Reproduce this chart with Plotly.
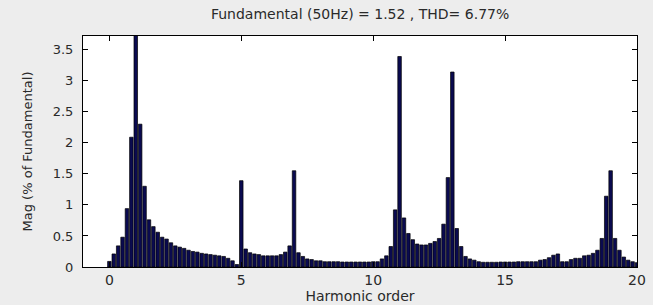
import plotly.graph_objects as go

# Harmonic orders (FFT resolution = 1/6 of the fundamental, 0..20)
harmonic_order = [k / 6 for k in range(121)]

# Magnitude (% of fundamental); the fundamental bar (100 %) is clipped by the axis
magnitude = [
    0.09, 0.21, 0.34, 0.48, 0.94, 2.09, 100.0, 2.30, 1.30, 0.76,
    0.65, 0.56, 0.48, 0.45, 0.39, 0.34, 0.32, 0.30, 0.27, 0.25,
    0.24, 0.22, 0.21, 0.20, 0.19, 0.18, 0.17, 0.14, 0.10, 0.04,
    1.39, 0.29, 0.23, 0.21, 0.20, 0.18, 0.18, 0.18, 0.18, 0.20,
    0.24, 0.34, 1.55, 0.23, 0.17, 0.13, 0.12, 0.10, 0.10, 0.085,
    0.085, 0.085, 0.085, 0.08, 0.08, 0.08, 0.08, 0.08, 0.08, 0.08,
    0.085, 0.085, 0.13, 0.18, 0.33, 0.92, 3.39, 0.79, 0.54, 0.44,
    0.37, 0.355, 0.355, 0.38, 0.41, 0.46, 0.69, 1.44, 3.14, 0.62,
    0.33, 0.17, 0.13, 0.11, 0.085, 0.076, 0.076, 0.076, 0.076, 0.08,
    0.08, 0.08, 0.08, 0.085, 0.085, 0.085, 0.085, 0.085, 0.11, 0.12,
    0.15, 0.19, 0.21, 0.085, 0.085, 0.12, 0.14, 0.14, 0.18, 0.19,
    0.22, 0.27, 0.46, 1.14, 1.55, 0.46, 0.27, 0.16, 0.11, 0.085,
    0.07,
]

title_text = "Fundamental (50Hz) = 1.52 , THD= 6.77%"
x_title = "Harmonic order"
y_title = "Mag (% of Fundamental)"
x_ticks = [0, 5, 10, 15, 20]
y_ticks = [0, 0.5, 1, 1.5, 2, 2.5, 3, 3.5]
y_ticklabels = ["0", "0.5", "1", "1.5", "2", "2.5", "3", "3.5"]

font_family = "DejaVu Sans"
text_color = "#2a2a2a"
bg_color = "#ededed"

fig = go.Figure()
fig.add_trace(go.Bar(
    x=harmonic_order,
    y=magnitude,
    marker=dict(color="#0a0a50", line=dict(color="#000000", width=0.7)),
    showlegend=False,
    hoverinfo="skip",
))

fig.update_layout(
    width=653,
    height=305,
    margin=dict(l=83, r=16, t=36, b=38),
    paper_bgcolor=bg_color,
    plot_bgcolor="#ffffff",
    bargap=0.2,
    font=dict(family=font_family, size=13, color=text_color),
    title=dict(
        text=title_text,
        x=0.5515, xref="container", xanchor="center",
        y=1 - 14 / 305, yref="container", yanchor="middle",
        automargin=False,
        font=dict(family=font_family, size=14, color=text_color),
    ),
)

fig.update_xaxes(
    range=[-1, 20],
    tickvals=x_ticks,
    ticktext=[str(v) for v in x_ticks],
    ticks="inside", ticklen=5, tickcolor="#000000",
    showline=True, linecolor="#000000", linewidth=1,
    mirror="ticks",
    showgrid=False, zeroline=False,
    automargin=False,
    title=dict(text=x_title, standoff=1, font=dict(size=14)),
    tickfont=dict(size=14),
)
fig.update_yaxes(
    range=[0, 3.72],
    tickvals=y_ticks,
    ticktext=y_ticklabels,
    ticks="inside", ticklen=5, tickcolor="#000000",
    showline=True, linecolor="#000000", linewidth=1,
    mirror="ticks",
    showgrid=False, zeroline=False,
    automargin=False,
    ticklabelstandoff=6,
    title=dict(text=y_title, standoff=17, font=dict(size=13)),
    tickfont=dict(size=13),
)

fig.write_html(
    "out.html",
    config={"displayModeBar": False},
    post_script=(
        "document.body.style.margin='0';"
        "document.body.style.background='" + bg_color + "';"
    ),
)
